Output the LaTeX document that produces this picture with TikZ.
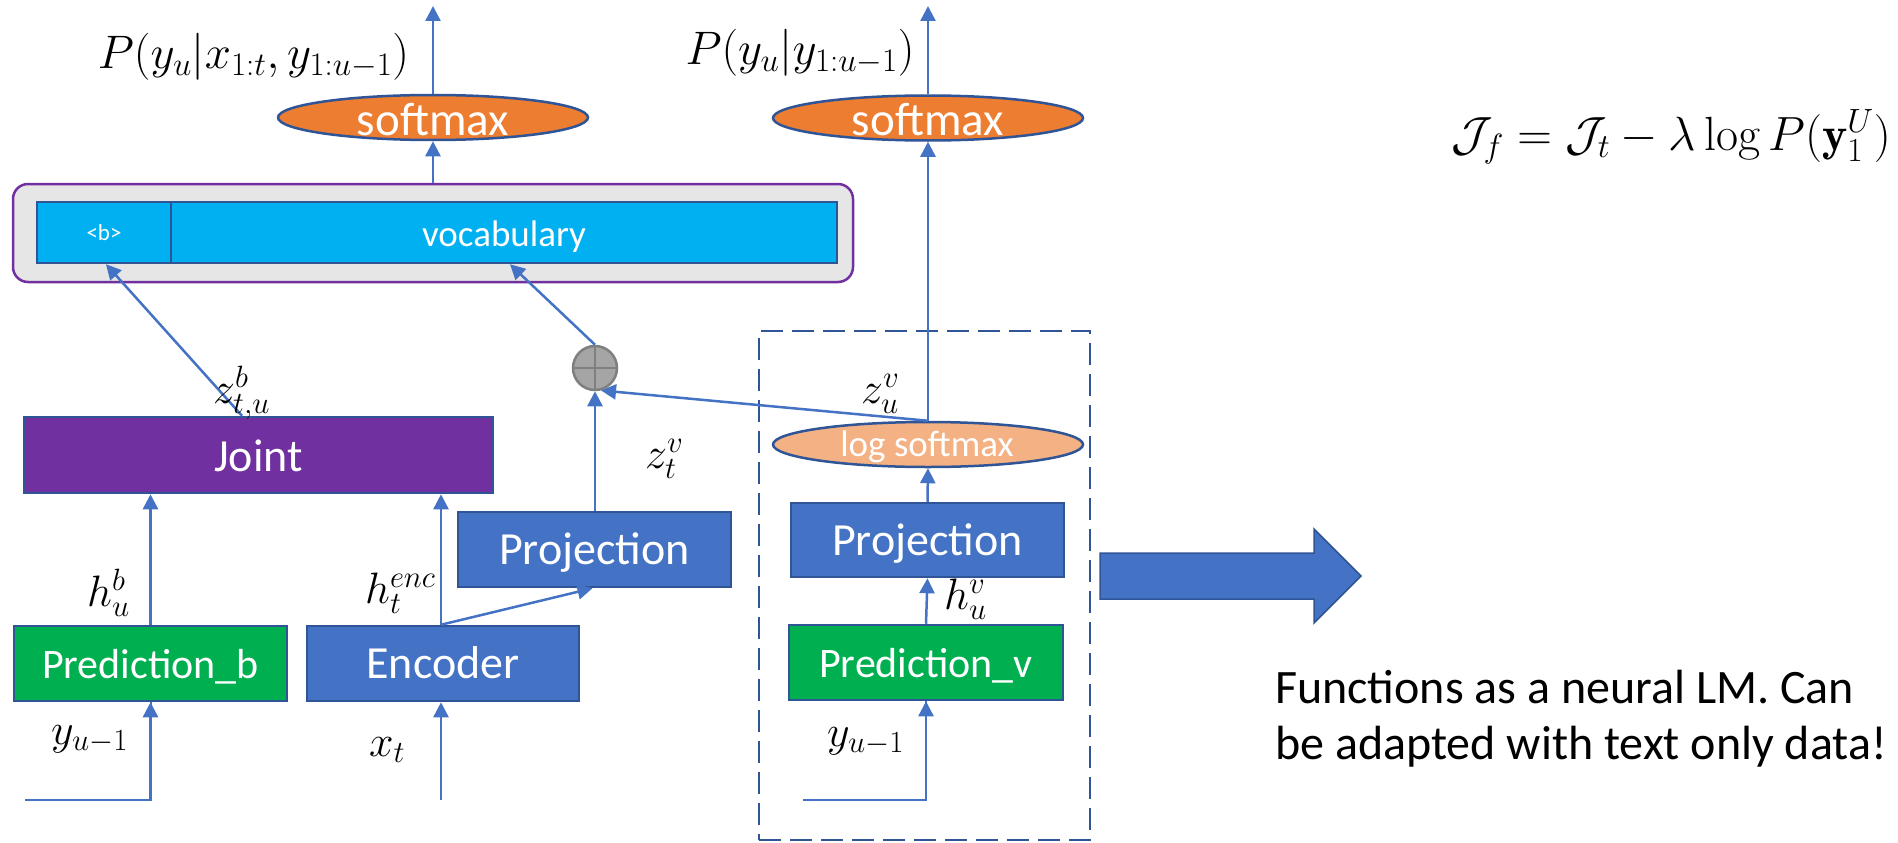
\RequirePackage{fix-cm}
\documentclass[tikz,border=0pt]{standalone}
\usepackage{fontspec}
\newfontfamily\calibri{Carlito}
\usetikzlibrary{arrows.meta,shapes.geometric,calc}
\definecolor{arrblue}{HTML}{4472C4}
\definecolor{edgeblue}{HTML}{2F5597}
\definecolor{boxblue}{HTML}{4472C4}
\definecolor{boxgreen}{HTML}{00B050}
\definecolor{boxpurple}{HTML}{7030A0}
\definecolor{vocabblue}{HTML}{00B0F0}
\definecolor{contgray}{HTML}{E7E6E6}
\definecolor{smorange}{HTML}{ED7D31}
\definecolor{lsmorange}{HTML}{F4B183}
\definecolor{plusgray}{HTML}{A5A5A5}
\definecolor{plusedge}{HTML}{7F7F7F}
\begin{document}
\begin{tikzpicture}[x=1pt,y=-1pt,
  blk/.style={draw=edgeblue, line width=2.5pt, inner sep=0pt, minimum height=75pt,
    minimum width=273pt, text=white, text height=30pt, text depth=0pt,
    font=\calibri\fontsize{46}{55}\selectfont},
  bluebox/.style={blk, fill=boxblue},
  greenbox/.style={blk, fill=boxgreen, font=\calibri\fontsize{42}{50}\selectfont, text height=29pt},
  purplebox/.style={blk, fill=boxpurple, text height=32pt},
  cell/.style={draw=edgeblue, line width=2.5pt, fill=vocabblue, inner sep=0pt,
    minimum height=61pt, text=white, text depth=0pt},
  ell/.style={ellipse, draw=edgeblue, line width=2.5pt, inner sep=0pt,
    minimum width=310pt, minimum height=45pt},
  elltext/.style={text=white, inner sep=0pt, anchor=base},
  arr/.style={draw=arrblue, line width=2.5pt, -{Triangle[length=15pt,width=15pt]}},
  feed/.style={draw=arrblue, line width=2pt},
  mlbl/.style={inner sep=0pt, anchor=base west, font=\fontsize{44}{53}\selectfont},
]
\useasboundingbox (0,0) rectangle (1898,843);

% top output coordinates
\coordinate (top1) at (433,6);
\coordinate (top2) at (928,6);

% softmax ellipses
\node[ell, fill=smorange] (sm1) at (433,117.5) {};
\node[elltext, font=\calibri\fontsize{47}{56}\selectfont] (sm1t) at (433,135) {softmax};
\node[ell, fill=smorange] (sm2) at (928,118) {};
\node[elltext, font=\calibri\fontsize{47}{56}\selectfont] (sm2t) at (928,135) {softmax};

% output labels
\node[inner sep=0pt, anchor=base, font=\fontsize{47}{56}\selectfont] (p1) at (253.5,68) {$P(y_u|x_{1:t}, y_{1:u-1})$};
\node[inner sep=0pt, anchor=base, font=\fontsize{47}{56}\selectfont] (p2) at (800,64) {$P(y_u|y_{1:u-1})$};

% vocabulary container
\node[draw=boxpurple, fill=contgray, rounded corners=15pt, line width=2.5pt,
  minimum width=840pt, minimum height=98pt, inner sep=0pt] (cont) at (433,233) {};
\node[cell, minimum width=134pt, text height=15pt, font=\calibri\fontsize{23}{28}\selectfont] (bcell) at (104,232.5) {<b>};
\node[cell, minimum width=666pt, text height=27pt, font=\calibri\fontsize{37}{44}\selectfont] (vcell) at (504,232.5) {vocabulary};

% plus
\node[circle, fill=plusgray, draw=plusedge, line width=2.5pt, minimum size=44pt, inner sep=0pt] (plus) at (595,368) {};
\draw[plusedge, line width=2.5pt] (plus.north) -- (plus.south) (plus.west) -- (plus.east);

% left blocks
\node[purplebox, minimum width=469pt, minimum height=76pt] (joint) at (258.5,455) {Joint};
\node[greenbox] (predb) at (150.5,663.5) {Prediction\_b};
\node[bluebox, minimum width=272pt] (enc) at (443,663.5) {Encoder};
\node[bluebox] (proj1) at (594.5,549.5) {Projection};

% right (LM) blocks
\node[draw=edgeblue, line width=2.5pt, dash pattern=on 22pt off 9pt,
  minimum width=331pt, minimum height=509pt, inner sep=0pt] (lmbox) at (924.5,585.5) {};
\node[ell, fill=lsmorange] (lsm) at (928,444.5) {};
\node[elltext, font=\calibri\fontsize{37}{44}\selectfont] (lsmt) at (927,456) {log softmax};
\node[bluebox, minimum height=74pt] (proj2) at (927.5,540) {Projection};
\node[greenbox, minimum width=274pt] (predv) at (926,662.5) {Prediction\_v};

% input coordinates
\coordinate (in1) at (25,800);
\coordinate (in2) at (441,800);
\coordinate (in3) at (803,800);

% connectors
\draw[arr] (sm1.north) -- (top1);
\draw[arr] (cont.north) -- (sm1.south);
\draw[arr] ([xshift=-16.5pt]joint.north) -- ([xshift=2pt]bcell.south);
\draw[arr] (plus.north) -- ([xshift=6pt]vcell.south);
\draw[arr] (proj1.north -| plus.south) -- (plus.south);
\draw[arr] (lsm.north) -- (plus.-75);
\draw[arr] (lsm.north) -- (sm2.south);
\draw[arr] (sm2.north) -- (top2);
\draw[arr] (proj2.north) -- (lsm.south);
\draw[arr] (predv.north) -- (proj2.south);
\draw[arr] (predb.north) -- (predb.north |- joint.south);
\draw[arr] (in2 |- enc.north) -- (in2 |- joint.south);
\draw[arr] (in2 |- enc.north) -- ([xshift=-2pt]proj1.south);
\draw[feed] (in1) -| (predb.south);
\draw[arr] (in1 -| predb.south) -- (predb.south);
\draw[arr] (in2) -- (in2 |- enc.south);
\draw[feed] (in3) -| (predv.south);
\draw[arr] (in3 -| predv.south) -- (predv.south);

% math labels
\node[mlbl] (zb) at (213,403) {$z^b_{t,u}$};
\node[mlbl] (zvu) at (861,403) {$z^v_u$};
\node[mlbl] (zvt) at (645,468) {$z^v_t$};
\node[mlbl] (hb) at (87,606) {$h^b_u$};
\node[mlbl] (henc) at (365,603) {$h^{enc}_t$};
\node[mlbl] (y1) at (51,744) {$y_{u-1}$};
\node[mlbl] (xt) at (369,756) {$x_t$};
\node[mlbl] (hv) at (944,609) {$h^v_u$};
\node[mlbl] (y3) at (827,746) {$y_{u-1}$};

% big arrow
\path[fill=arrblue, draw=edgeblue, line width=1.5pt]
  (1100,553) -- (1314,553) -- (1314,529) -- (1361,576) -- (1314,623) -- (1314,599) -- (1100,599) -- cycle;

% formula
\node[inner sep=0pt, anchor=base east, font=\fontsize{48}{57}\selectfont] (formula) at (1891,150)
  {$\mathcal{J}_f = \mathcal{J}_t - \lambda \log P(\mathbf{y}_1^U)$};

% note
\node[inner sep=0pt, anchor=base west, font=\calibri\fontsize{48}{57}\selectfont] (note1) at (1275,703) {Functions as a neural LM. Can};
\node[inner sep=0pt, anchor=base west, font=\calibri\fontsize{48}{57}\selectfont] (note2) at (1275,759) {be adapted with text only data!};
\end{tikzpicture}
\end{document}
